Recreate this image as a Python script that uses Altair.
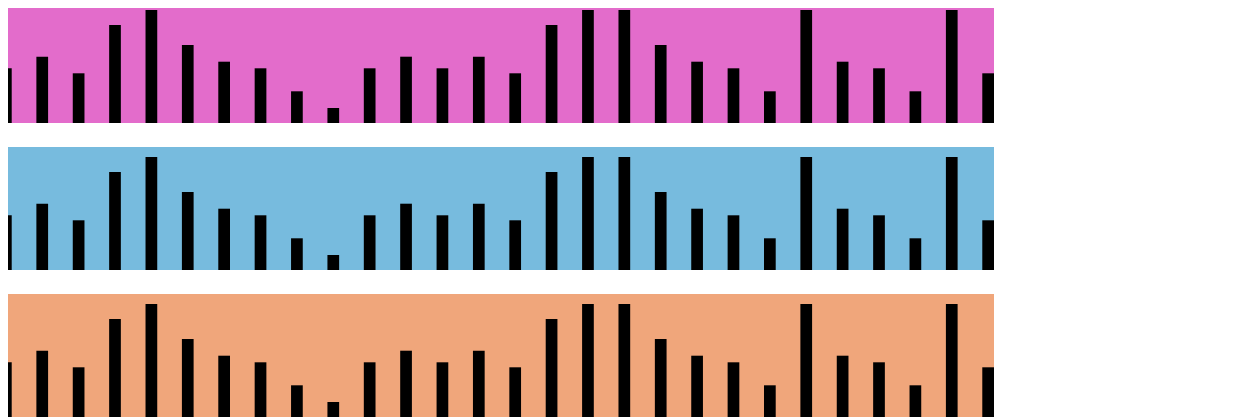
import altair as alt
import pandas as pd

# Bar index (category) and bar values (same series drawn in every panel)
categories = [f"b{i:02d}" for i in range(1, 29)]
values = [54.7, 66.3, 49.7, 98, 113, 78, 61.3, 54.7, 31.7, 15,
          54.7, 66.3, 54.7, 66.3, 49.7, 98, 113, 113, 78, 61.3,
          54.7, 31.7, 113, 61.3, 54.7, 31.7, 113, 49.7]
panel_colors = ["#e36ccb", "#77bbde", "#f0a67b"]

df = pd.DataFrame({"cat": categories, "value": values})


def panel(fill):
    return (
        alt.Chart(df)
        .mark_bar(color="black")
        .encode(
            x=alt.X("cat:N", axis=None, sort=None,
                    scale=alt.Scale(paddingInner=0.678, paddingOuter=0)),
            y=alt.Y("value:Q", axis=None, scale=alt.Scale(domain=[0, 123], nice=False)),
        )
        .properties(width=994, height=123)
        .configure_view if False else
        alt.Chart(df)
        .mark_bar(color="black")
        .encode(
            x=alt.X("cat:N", axis=None, sort=None,
                    scale=alt.Scale(paddingInner=0.678, paddingOuter=0)),
            y=alt.Y("value:Q", axis=None, scale=alt.Scale(domain=[0, 123], nice=False)),
        )
        .properties(width=994, height=123, view=alt.ViewBackground(fill=fill, stroke=None))
    )


chart = (
    alt.vconcat(*[panel(c) for c in panel_colors], spacing=24)
    .properties(padding={"left": -8, "top": -8, "right": 0, "bottom": 0})
    .configure_view(stroke=None)
)

chart.save("out.html", embed_options={"renderer": "svg", "actions": False})
